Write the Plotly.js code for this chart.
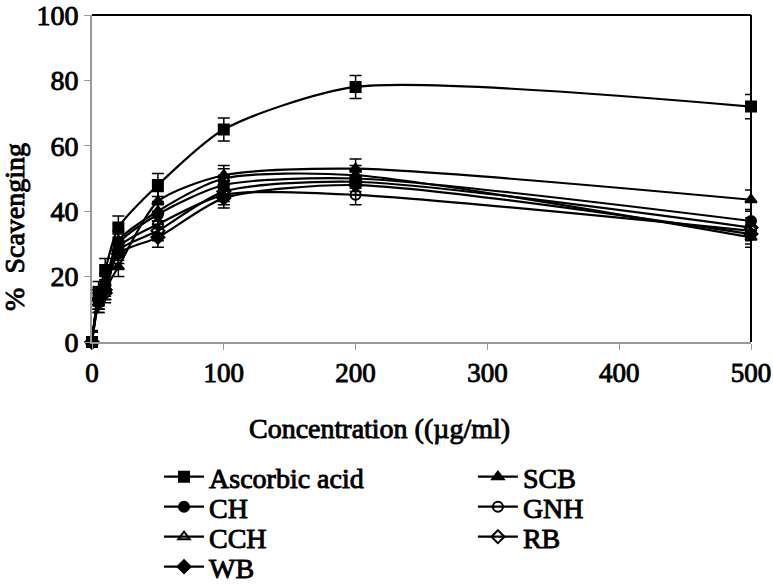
<!DOCTYPE html>
<html><head><meta charset="utf-8">
<script src="https://cdn.plot.ly/plotly-3.0.1.min.js"></script>
<style>
html,body{margin:0;padding:0;background:#fff}
#chart svg text{stroke:#000;stroke-width:0.9px;}
</style>
</head><body>
<div id="chart" style="width:773px;height:585px"></div>
<script>
const conc = [0, 5, 10, 20, 50, 100, 200, 500];
const seriesNames = ["Ascorbic acid", "SCB", "CH", "GNH", "CCH", "RB", "WB"];
const ascorbic = [0, 15, 22, 35, 48, 65, 78, 72];
const scb      = [0, 12, 16, 23, 43, 51, 53, 43.5];
const ch       = [0, 13, 17, 30, 39, 48, 50, 37];
const gnh      = [0, 12, 16, 29, 36, 45, 45, 34];
const cch      = [0, 14, 18, 31, 40, 50, 51, 32];
const rb       = [0, 13, 15, 28, 34, 46, 49, 35];
const wb       = [0, 13, 16, 27, 32, 44, 48, 33];
const errAsc   = [3.5, 3.5, 3.5, 3.5, 3.5, 3.5, 3.5, 3.7];
const errOther = [3, 3, 3, 3, 3, 3, 3, 3];
const xTitle = "Concentration ((µg/ml)";
const yTitle = "%  Scavenging";

const values   = [ascorbic, scb, ch, gnh, cch, rb, wb];
const errors   = [errAsc, errOther, errOther, errOther, errOther, errOther, errOther];
const symbols  = ["square", "triangle-up", "circle", "circle-open", "triangle-up-open", "diamond-open", "diamond"];
// legend grid placement (column x, row y in paper units)
const colX = [0.1017, 0.578];
const rowY = [-0.4128, -0.5046, -0.5963, -0.6881];

const fontFam = "Liberation Serif";
const legendFont = {family: fontFam, size: 28, color: "#000"};

const traces = [];
const layout = {
  width: 773, height: 585,
  margin: {l: 92, r: 22, t: 15, b: 243, autoexpand: false},
  paper_bgcolor: "#fff", plot_bgcolor: "#fff",
  font: {family: fontFam, color: "#000", size: 28},
  showlegend: true,
  xaxis: {
    range: [0, 500], tickvals: [0, 100, 200, 300, 400, 500],
    showgrid: false, zeroline: false, showline: true, linecolor: "#999", linewidth: 2,
    ticks: "outside", ticklen: 6, tickcolor: "#999", tickwidth: 1, ticklabeloverflow: "allow",
    tickfont: {family: fontFam, size: 27, color: "#000"}
  },
  yaxis: {
    range: [0, 100], tickvals: [0, 20, 40, 60, 80, 100],
    showgrid: false, zeroline: false, showline: true, linecolor: "#999", linewidth: 2,
    ticks: "outside", ticklen: 6, tickcolor: "#999", tickwidth: 1, ticklabeloverflow: "allow",
    tickfont: {family: fontFam, size: 28, color: "#000"}
  },
  annotations: [
    {xref: "paper", yref: "paper", x: 0.437, y: -0.263, xanchor: "center", yanchor: "middle",
     text: xTitle, showarrow: false, font: {family: fontFam, size: 28, color: "#000"}},
    {xref: "paper", yref: "paper", x: -0.1168, y: 0.352, xanchor: "center", yanchor: "middle", textangle: -90,
     text: yTitle, showarrow: false, font: {family: fontFam, size: 28, color: "#000"}}
  ],
  shapes: [
    {type: "line", xref: "paper", yref: "paper", x0: 0, x1: 1, y0: 1, y1: 1, line: {color: "#000", width: 2}},
    {type: "line", xref: "paper", yref: "paper", x0: 1, x1: 1, y0: 0, y1: 1, line: {color: "#000", width: 2}}
  ]
};

seriesNames.forEach((n, i) => {
  const lid = i === 0 ? "legend" : "legend" + (i + 1);
  traces.push({
    type: "scatter", mode: "lines+markers", name: n, legend: lid,
    x: conc, y: values[i],
    line: {color: "#000", width: 2.2, shape: "spline", smoothing: 0.7},
    marker: {symbol: symbols[i], size: 10, color: "#000", line: {color: "#000", width: 2}},
    error_y: {type: "data", array: errors[i], visible: true, color: "#000", thickness: 1.5, width: 6},
    cliponaxis: false
  });
  layout[lid] = {
    orientation: "v", x: colX[i % 2], xanchor: "left", y: rowY[Math.floor(i / 2)], yanchor: "middle",
    font: legendFont, itemwidth: 40, bgcolor: "rgba(0,0,0,0)", borderwidth: 0
  };
});

Plotly.newPlot("chart", traces, layout, {displayModeBar: false, staticPlot: true});
</script>
</body></html>
